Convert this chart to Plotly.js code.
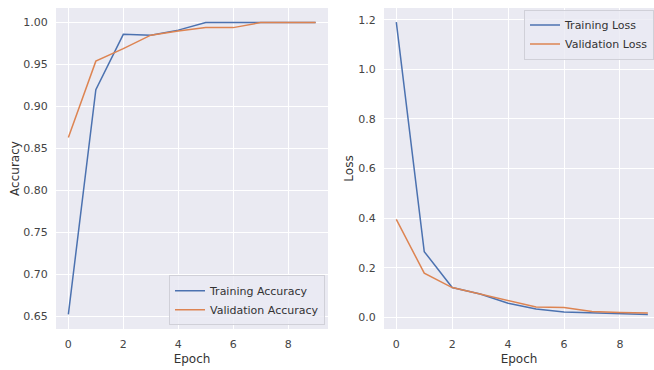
<!DOCTYPE html>
<html><head><meta charset="utf-8">
<script src="https://cdn.plot.ly/plotly-3.0.1.min.js"></script>
<style>html,body{margin:0;padding:0;background:#fff;}#c{width:654px;height:370px;}</style>
</head><body><div id="c"></div>
<script>
const epochs = [0,1,2,3,4,5,6,7,8,9];
const trainAcc = [0.652,0.920,0.986,0.985,0.991,1.0,1.0,1.0,1.0,1.0];
const valAcc = [0.863,0.954,0.969,0.985,0.990,0.994,0.994,1.0,1.0,1.0];
const trainLoss = [1.19,0.265,0.12,0.094,0.057,0.034,0.022,0.018,0.012,0.011];
const valLoss = [0.395,0.178,0.12,0.094,0.066,0.042,0.040,0.024,0.020,0.017];
const accTicks = [0.65,0.70,0.75,0.80,0.85,0.90,0.95,1.00];
const lossTicks = [0.0,0.2,0.4,0.6,0.8,1.0,1.2];
const xTicks = [0,2,4,6,8];

const blue = '#4c72b0', orange = '#dd8452';
const traces = [
  {x: epochs, y: trainAcc, name: 'Training Accuracy', mode: 'lines', line: {color: blue, width: 1.5}, xaxis: 'x', yaxis: 'y', legend: 'legend'},
  {x: epochs, y: valAcc, name: 'Validation Accuracy', mode: 'lines', line: {color: orange, width: 1.5}, xaxis: 'x', yaxis: 'y', legend: 'legend'},
  {x: epochs, y: trainLoss, name: 'Training Loss', mode: 'lines', line: {color: blue, width: 1.5}, xaxis: 'x2', yaxis: 'y2', legend: 'legend2'},
  {x: epochs, y: valLoss, name: 'Validation Loss', mode: 'lines', line: {color: orange, width: 1.5}, xaxis: 'x2', yaxis: 'y2', legend: 'legend2'}
];
const W = 654;
const ax = {
  showgrid: true, gridcolor: '#ffffff', gridwidth: 1, zeroline: false, showline: false,
  ticks: 'outside', ticklen: 5, tickcolor: 'rgba(0,0,0,0)',
  tickfont: {size: 11, color: '#444'}
};
const legendBase = {
  bgcolor: 'rgba(234,234,242,0.8)', bordercolor: '#d0d0d8', borderwidth: 1,
  font: {size: 11, color: '#333'}, itemwidth: 30, tracegroupgap: 0
};
const layout = {
  width: 654, height: 370,
  margin: {l: 0, r: 0, t: 8, b: 41},
  paper_bgcolor: '#ffffff', plot_bgcolor: '#eaeaf2',
  font: {family: 'DejaVu Sans, sans-serif', color: '#333'},
  xaxis: Object.assign({}, ax, {domain: [56/W, 328/W], range: [-0.45, 9.45], tickvals: xTicks,
    title: {text: 'Epoch', font: {size: 12, color: '#333'}, standoff: 4}, anchor: 'y'}),
  yaxis: Object.assign({}, ax, {range: [0.6346, 1.0174], tickvals: accTicks, tickformat: '.2f',
    title: {text: 'Accuracy', font: {size: 12, color: '#333'}, standoff: 1}, anchor: 'x'}),
  xaxis2: Object.assign({}, ax, {domain: [384/W, 1], range: [-0.44, 9.22], tickvals: xTicks,
    title: {text: 'Epoch', font: {size: 12, color: '#333'}, standoff: 4}, anchor: 'y2'}),
  yaxis2: Object.assign({}, ax, {range: [-0.047, 1.247], tickvals: lossTicks, tickformat: '.1f',
    title: {text: 'Loss', font: {size: 12, color: '#333'}, standoff: 2}, anchor: 'x2'}),
  showlegend: true,
  legend: Object.assign({}, legendBase, {x: 325/W, xanchor: 'right', y: 0.012, yanchor: 'bottom'}),
  legend2: Object.assign({}, legendBase, {x: 1, xanchor: 'right', y: 0.995, yanchor: 'top'})
};
Plotly.newPlot('c', traces, layout, {displayModeBar: false, staticPlot: true});
</script></body></html>
